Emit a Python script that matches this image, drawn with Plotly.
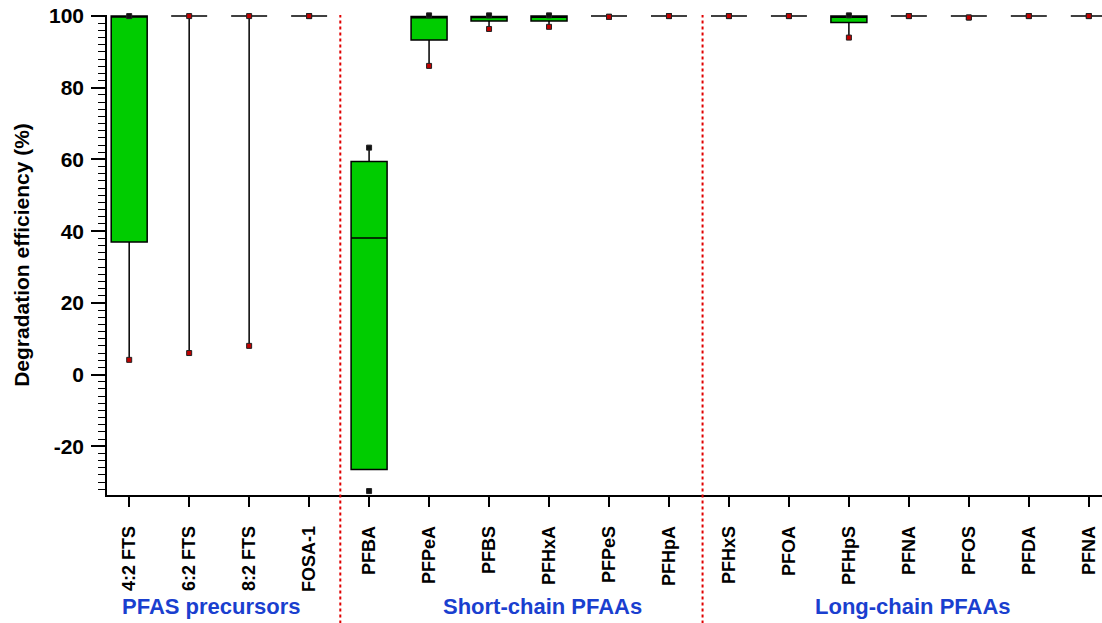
import plotly.graph_objects as go

# Compounds, in plotting order
compounds = ["4:2 FTS", "6:2 FTS", "8:2 FTS", "FOSA-1",
             "PFBA", "PFPeA", "PFBS", "PFHxA", "PFPeS", "PFHpA",
             "PFHxS", "PFOA", "PFHpS", "PFNA", "PFOS", "PFDA", "PFNA"]

# Box statistics of degradation efficiency (%)
q1 = [37.0, 100, 100, 100, -26.5, 93.3, 98.6, 98.6, 100, 100,
      100, 100, 98.2, 100, 100, 100, 100]
median = [100, 100, 100, 100, 38.1, 99.5, 99.6, 99.7, 100, 100,
          100, 100, 99.7, 100, 100, 100, 100]
q3 = [100, 100, 100, 100, 59.4, 99.9, 99.9, 100, 100, 100,
      100, 100, 100, 100, 100, 100, 100]
lower = [4.1, 6.0, 8.0, 100, -26.5, 86.1, 96.4, 97.0, 100, 100,
         100, 100, 94.0, 100, 100, 100, 100]
upper = [100, 100, 100, 100, 63.3, 100, 100, 100, 100, 100,
         100, 100, 100, 100, 100, 100, 100]

# Minimum / maximum observations
min_vals = [4.1, 6.0, 8.0, 100, -32.5, 86.1, 96.4, 97.0, 99.8, 100,
            100, 100, 94.0, 100, 99.6, 100, 100]
max_vals = [100, 100, 100, 100, 63.3, 100.2, 100.2, 100.2, 99.8, 100,
            100, 100, 100.2, 100, 99.6, 100, 100]
max_is_dark = [True, False, False, False, True, True, True, True, False, False,
               False, False, True, False, False, False, False]
min_is_dark = [False, False, False, False, True, False, False, False, False, False,
               False, False, False, False, False, False, False]

# Y-axis ticks
y_ticks = [-20, 0, 20, 40, 60, 80, 100]
y_tick_text = ["-20", "0", "20", "40", "60", "80", "100"]

groups = ["PFAS precursors", "Short-chain PFAAs", "Long-chain PFAAs"]
group_centers = [1.38, 6.89, 13.07]
separators = [3.52, 9.56]

xs = list(range(len(compounds)))

fig = go.Figure()

fig.add_trace(go.Box(
    x=xs, q1=q1, median=median, q3=q3,
    lowerfence=lower, upperfence=upper,
    width=0.6, whiskerwidth=0,
    fillcolor="#00cc00",
    line=dict(color="black", width=1.5),
    boxpoints=False, showlegend=False, hoverinfo="skip",
))

dark = "#111111"
red = "#c00000"
fig.add_trace(go.Scatter(
    x=xs + xs, y=min_vals + max_vals, mode="markers",
    marker=dict(symbol="square", size=5,
                color=[dark if d else red for d in min_is_dark + max_is_dark],
                line=dict(color="#222222", width=1)),
    showlegend=False, hoverinfo="skip", cliponaxis=False,
))

shapes = []
for s in separators:
    shapes.append(dict(type="line", xref="x", yref="paper", x0=s, x1=s,
                       y0=-0.28, y1=1.0,
                       line=dict(color="#e00000", width=2, dash="dot")))

annotations = []
for g, c in zip(groups, group_centers):
    annotations.append(dict(x=c, y=-0.233, xref="x", yref="paper", text=g,
                            showarrow=False, yanchor="middle",
                            font=dict(family="Arial, Liberation Sans", size=22,
                                      color="#1a3fcf", weight="bold")))

fig.update_layout(
    width=1102, height=623,
    margin=dict(l=107, r=0, t=15, b=128),
    plot_bgcolor="white", paper_bgcolor="white",
    shapes=shapes, annotations=annotations,
    font=dict(family="Arial, Liberation Sans", color="black"),
)

fig.update_xaxes(
    range=[-0.37, 16.22], tickmode="array", tickvals=xs, ticktext=compounds,
    tickangle=-90, showline=True, linecolor="black", linewidth=1.5,
    ticks="outside", ticklen=10, tickwidth=1.5, tickcolor="black",
    tickfont=dict(size=18, weight="bold"), showgrid=False, zeroline=False,
    ticklabelstandoff=12,
)
fig.update_yaxes(
    range=[-33.6, 100.3], tickmode="array", tickvals=y_ticks, ticktext=y_tick_text,
    showline=True, linecolor="black", linewidth=1.5,
    ticks="outside", ticklen=14, tickwidth=1.5, tickcolor="black",
    minor=dict(dtick=2, ticklen=7, ticks="outside", tickcolor="black", tickwidth=1.2),
    tickfont=dict(size=21, weight="bold"), showgrid=False, zeroline=False,
    ticklabelstandoff=3,
    title=dict(text="Degradation efficiency (%)", standoff=14,
               font=dict(size=21, weight="bold")),
)

fig.write_html("out.html")
